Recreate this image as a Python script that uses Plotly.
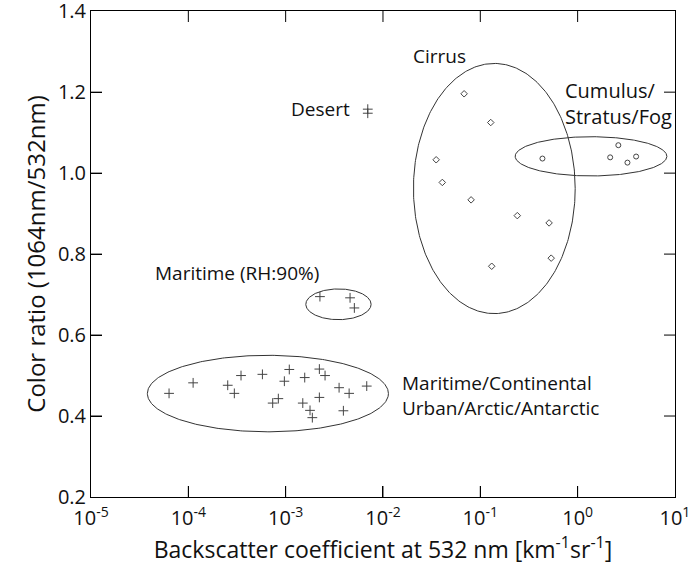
import numpy as np
import plotly.graph_objects as go

# ---- data (backscatter coefficient [km^-1 sr^-1], color ratio) ----
aerosol_x = [6.34e-5, 1.12e-4, 2.54e-4, 2.97e-4, 3.48e-4, 5.77e-4, 1.09e-3, 9.7e-4,
             1.57e-3, 2.22e-3, 2.54e-3, 8.41e-4, 7.36e-4, 1.50e-3, 1.78e-3, 1.88e-3,
             2.22e-3, 3.54e-3, 4.49e-3, 6.81e-3, 3.92e-3]
aerosol_y = [0.456, 0.482, 0.476, 0.456, 0.500, 0.503, 0.515, 0.486,
             0.495, 0.516, 0.500, 0.443, 0.432, 0.432, 0.414, 0.396,
             0.446, 0.470, 0.456, 0.474, 0.413]

maritime90_x = [2.25e-3, 4.59e-3, 5.08e-3]
maritime90_y = [0.695, 0.692, 0.667]

desert_x = [6.98e-3, 6.98e-3]
desert_y = [1.158, 1.148]

cirrus_x = [0.0682, 0.128, 0.0352, 0.0407, 0.0804, 0.240, 0.509, 0.535, 0.131]
cirrus_y = [1.196, 1.125, 1.033, 0.977, 0.934, 0.895, 0.877, 0.790, 0.770]

cumulus_x = [0.435, 2.16, 2.62, 3.25, 3.99]
cumulus_y = [1.036, 1.039, 1.069, 1.026, 1.041]

x_tickvals = [1e-5, 1e-4, 1e-3, 1e-2, 1e-1, 1e0, 1e1]
x_ticktext = ["10<sup>-5</sup>", "10<sup>-4</sup>", "10<sup>-3</sup>", "10<sup>-2</sup>",
              "10<sup>-1</sup>", "10<sup>0</sup>", "10<sup>1</sup>"]
y_tickvals = [0.2, 0.4, 0.6, 0.8, 1.0, 1.2, 1.4]
y_ticktext = ["0.2", "0.4", "0.6", "0.8", "1.0", "1.2", "1.4"]

# cluster outlines: (log10 x-left, log10 x-right, y-bottom, y-top)
ellipses = [
    (-4.421, -1.944, 0.361, 0.550),   # Maritime/Continental ...
    (-2.793, -2.122, 0.638, 0.714),   # Maritime (RH:90%)
    (-1.687, -0.025, 0.653, 1.271),   # Cirrus
    (-0.642, 0.917, 0.993, 1.090),    # Cumulus/Stratus/Fog
]

FONT = "Open Sans"
PT = "#444444"
TXT = "#111111"
XR = [-5, 1.0005]
YR = [0.2, 1.4005]
TL = 11  # tick length in px

fig = go.Figure()

t = np.linspace(0, 2 * np.pi, 361)
for x0, x1, y0, y1 in ellipses:
    cx, a = (x0 + x1) / 2, (x1 - x0) / 2
    cy, b = (y0 + y1) / 2, (y1 - y0) / 2
    fig.add_trace(go.Scatter(x=10 ** (cx + a * np.cos(t)), y=cy + b * np.sin(t),
                             mode="lines", line=dict(color="#333333", width=1),
                             hoverinfo="skip", showlegend=False))

cross = dict(symbol="cross-thin", size=7, line=dict(color=PT, width=1), color=PT)
fig.add_trace(go.Scatter(x=aerosol_x, y=aerosol_y, mode="markers", marker=cross, showlegend=False))
fig.add_trace(go.Scatter(x=maritime90_x, y=maritime90_y, mode="markers", marker=cross, showlegend=False))
fig.add_trace(go.Scatter(x=desert_x, y=desert_y, mode="markers", marker=cross, showlegend=False))
fig.add_trace(go.Scatter(x=cirrus_x, y=cirrus_y, mode="markers",
                         marker=dict(symbol="diamond-open", size=5, color=PT, line=dict(width=1)),
                         showlegend=False))
fig.add_trace(go.Scatter(x=cumulus_x, y=cumulus_y, mode="markers",
                         marker=dict(symbol="circle-open", size=5, color=PT, line=dict(width=1)),
                         showlegend=False))

labels = [
    ("Cirrus", -1.711, 1.289, "left", 19),
    ("Cumulus/<br>Stratus/Fog", -0.15, 1.171, "left", 20),
    ("Desert", -2.321, 1.159, "right", 19),
    ("Maritime (RH:90%)", -4.363, 0.754, "left", 19),
    ("Maritime/Continental<br>Urban/Arctic/Antarctic", -1.824, 0.451, "left", 19),
]
for txt, lx, ly, anc, fs in labels:
    fig.add_annotation(x=lx, y=ly, xref="x", yref="y", text=txt, showarrow=False,
                       xanchor=anc, yanchor="middle", align="left",
                       font=dict(family=FONT, size=fs, color=TXT))

# inward ticks on all four sides, placed at the tick values through the axes
tick_line = dict(color="black", width=1)
for v in x_tickvals[1:-1]:
    fig.add_shape(type="line", xref="x", x0=v, x1=v, yref="paper", ysizemode="pixel",
                  yanchor=0, y0=0, y1=TL, line=tick_line)
    fig.add_shape(type="line", xref="x", x0=v, x1=v, yref="paper", ysizemode="pixel",
                  yanchor=1, y0=0, y1=-TL, line=tick_line)
for v in y_tickvals[1:-1]:
    fig.add_shape(type="line", yref="y", y0=v, y1=v, xref="paper", xsizemode="pixel",
                  xanchor=0, x0=0, x1=TL, line=tick_line)
    fig.add_shape(type="line", yref="y", y0=v, y1=v, xref="paper", xsizemode="pixel",
                  xanchor=1, x0=0, x1=-TL, line=tick_line)

axis_common = dict(showgrid=False, zeroline=False, showline=True, linecolor="black",
                   linewidth=1, mirror=True, ticks="inside", ticklen=TL,
                   tickcolor="black", tickwidth=1, automargin=False,
                   ticklabeloverflow="allow",
                   tickfont=dict(family=FONT, size=20, color=TXT))

fig.update_layout(
    xaxis=dict(type="log", range=XR, tickvals=x_tickvals, ticktext=x_ticktext,
               ticklabelstandoff=3,
               title=dict(text="Backscatter coefficient at 532 nm [km<sup>-1</sup>sr<sup>-1</sup>]",
                          font=dict(family=FONT, size=23, color=TXT), standoff=4),
               **axis_common),
    yaxis=dict(range=YR, tickvals=y_tickvals, ticktext=y_ticktext,
               title=dict(text="Color ratio (1064nm/532nm)",
                          font=dict(family=FONT, size=24, color=TXT), standoff=5),
               **axis_common),
    width=690, height=565, margin=dict(l=91, r=15, t=11, b=68),
    paper_bgcolor="white", plot_bgcolor="white", showlegend=False,
)

fig.write_html("out.html", config={"displayModeBar": False},
               post_script="document.body.style.margin='0';document.body.style.overflow='hidden';")
